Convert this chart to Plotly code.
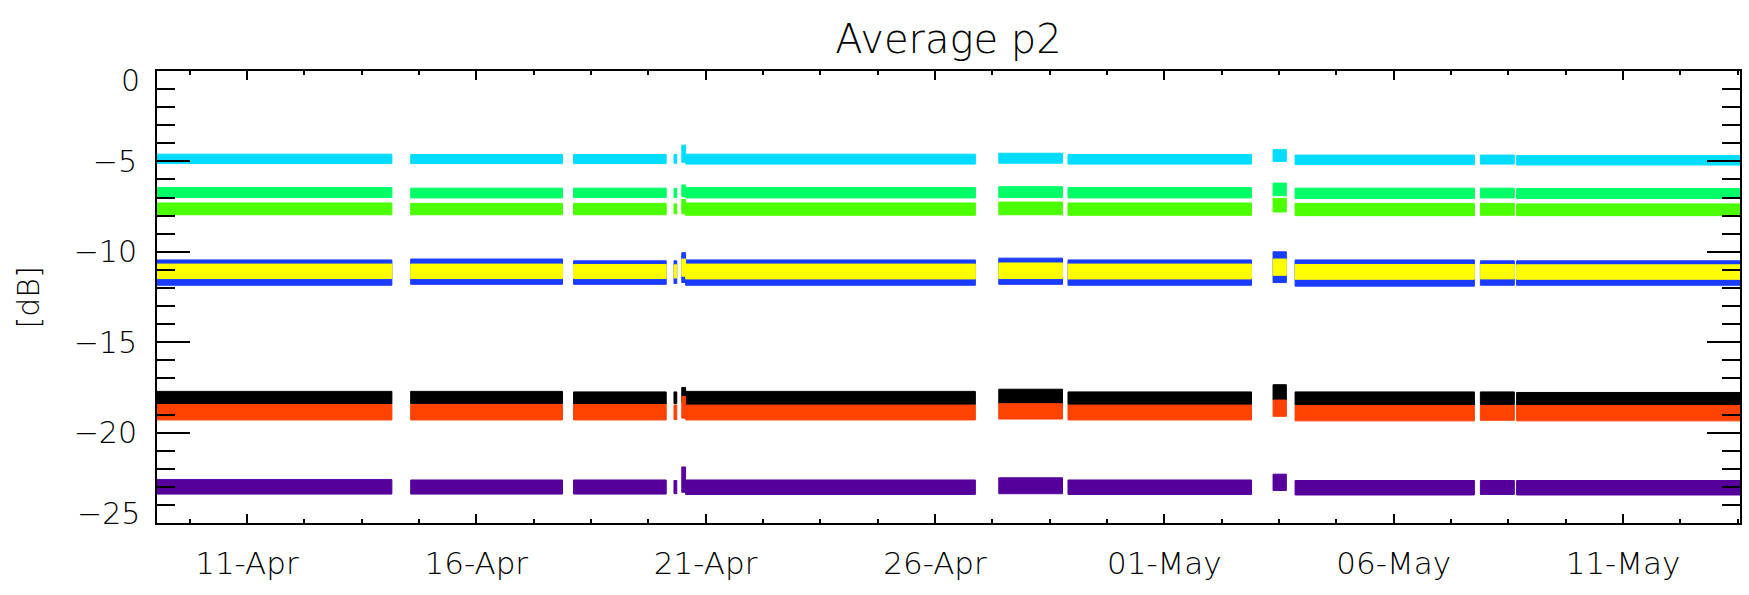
import plotly.graph_objects as go

# ---------------- data ----------------
# contiguous data segments (shared by all channels)
SEG_START = ["2015-04-09 00:40", "2015-04-14 13:40", "2015-04-18 02:53",
             "2015-04-20 07:26", "2015-04-20 11:31", "2015-04-20 13:30",
             "2015-04-27 09:22", "2015-04-28 21:36", "2015-05-03 08:53", "2015-05-03 20:24",
             "2015-05-07 21:22", "2015-05-08 16:19"]
SEG_END = ["2015-04-14 03:50", "2015-04-17 21:07", "2015-04-20 03:22",
           "2015-04-20 08:53", "2015-04-20 13:30", "2015-04-26 21:07",
           "2015-04-28 18:43", "2015-05-02 21:36", "2015-05-03 15:50", "2015-05-07 18:14",
           "2015-05-08 15:07", "2015-05-13 14:00"]

# upper / lower envelope of each channel per segment [dB]
black_top = [-17.72, -17.72, -17.75, -17.75, -17.50, -17.72, -17.60, -17.75, -17.35, -17.75, -17.75, -17.78]
black_bot = [-18.42, -18.40, -18.42, -18.40, -18.30, -18.45, -18.40, -18.45, -18.20, -18.48, -18.45, -18.48]
purple_top = [-22.60, -22.62, -22.62, -22.65, -21.90, -22.62, -22.50, -22.62, -22.30, -22.65, -22.65, -22.65]
purple_bot = [-23.40, -23.40, -23.40, -23.38, -23.30, -23.42, -23.38, -23.42, -23.20, -23.45, -23.42, -23.45]
blue_top = [-10.45, -10.40, -10.50, -10.50, -10.05, -10.45, -10.35, -10.45, -10.00, -10.45, -10.50, -10.50]
blue_bot = [-11.85, -11.80, -11.80, -11.75, -11.70, -11.85, -11.80, -11.85, -11.70, -11.90, -11.85, -11.85]
cyan_top = [-4.60, -4.62, -4.62, -4.62, -4.10, -4.60, -4.55, -4.62, -4.35, -4.65, -4.65, -4.68]
cyan_bot = [-5.12, -5.12, -5.12, -5.10, -5.05, -5.15, -5.10, -5.15, -5.00, -5.18, -5.15, -5.20]
spring_top = [-6.45, -6.48, -6.48, -6.50, -6.30, -6.45, -6.40, -6.45, -6.20, -6.48, -6.48, -6.50]
spring_bot = [-7.00, -7.02, -7.00, -7.00, -6.95, -7.02, -7.00, -7.02, -6.90, -7.05, -7.02, -7.05]
lime_top = [-7.30, -7.32, -7.32, -7.35, -7.10, -7.30, -7.25, -7.30, -7.05, -7.32, -7.32, -7.35]
lime_bot = [-7.95, -7.95, -7.95, -7.90, -7.90, -7.98, -7.95, -7.98, -7.80, -8.00, -7.98, -8.00]
yellow_top = [-10.68, -10.68, -10.70, -10.72, -10.40, -10.68, -10.62, -10.68, -10.40, -10.70, -10.70, -10.72]
yellow_bot = [-11.48, -11.48, -11.48, -11.45, -11.35, -11.50, -11.48, -11.50, -11.30, -11.52, -11.50, -11.52]
orange_top = [-18.45, -18.45, -18.45, -18.48, -18.00, -18.48, -18.40, -18.48, -18.20, -18.50, -18.50, -18.50]
orange_bot = [-19.30, -19.30, -19.30, -19.28, -19.20, -19.30, -19.25, -19.30, -19.10, -19.35, -19.32, -19.35]

SERIES = [
    ("ch1", "#000000", black_top, black_bot),
    ("ch2", "#55009a", purple_top, purple_bot),
    ("ch3", "#1a3cff", blue_top, blue_bot),
    ("ch4", "#00dcff", cyan_top, cyan_bot),
    ("ch5", "#00ff66", spring_top, spring_bot),
    ("ch6", "#4cff00", lime_top, lime_bot),
    ("ch7", "#ffff00", yellow_top, yellow_bot),
    ("ch8", "#ff4200", orange_top, orange_bot),
]

TICK_DATES = ["2015-04-11", "2015-04-16", "2015-04-21", "2015-04-26", "2015-05-01", "2015-05-06", "2015-05-11"]
TICK_LABELS = ["11-Apr", "16-Apr", "21-Apr", "26-Apr", "01-May", "06-May", "11-May"]
Y_TICKS = [0, -5, -10, -15, -20, -25]
Y_LABELS = ["0", "\u22125", "\u221210", "\u221215", "\u221220", "\u221225"]

X_RANGE = ["2015-04-09 00:56", "2015-05-13 13:12"]
Y_RANGE = [-25, 0]

FONT = "DejaVu Sans"

# ---------------- figure ----------------
fig = go.Figure()
for name, color, top, bot in SERIES:
    xs, ys = [], []
    for s, e, t, b in zip(SEG_START, SEG_END, top, bot):
        xs += [s, e, e, s, s, None]
        ys += [t, t, b, b, t, None]
    fig.add_trace(go.Scatter(x=xs, y=ys, mode="lines", fill="toself",
                             fillcolor=color, line=dict(color=color, width=1),
                             name=name, showlegend=False, hoverinfo="skip"))

W, H = 1749, 595
L, R, T, B = 156.7, 7, 71, 71.5
pw = W - L - R

fig.update_layout(
    width=W, height=H,
    margin=dict(l=L, r=R, t=T, b=B, pad=0),
    paper_bgcolor="white", plot_bgcolor="white",
    font=dict(family=FONT, color="black", size=29),
    title=dict(text="Average p2", x=0.5, xref="paper", xanchor="center",
               y=1 - 39 / H, yref="container", yanchor="middle",
               font=dict(family=FONT, size=40, color="black", weight=200)),
    showlegend=False,
    hovermode=False,
)

fig.update_xaxes(
    type="date", range=X_RANGE,
    tickvals=TICK_DATES, ticktext=TICK_LABELS,
    ticks="inside", ticklen=9, tickwidth=1.6, tickcolor="black",
    minor=dict(dtick=1.25 * 86400000, tick0="2015-04-11", ticks="inside",
               ticklen=4, tickwidth=1.6, tickcolor="black"),
    showline=True, linewidth=2, linecolor="black", mirror="ticks",
    showgrid=False, zeroline=False,
    tickfont=dict(family=FONT, size=31, color="black", weight=200),
    ticklabelstandoff=12,
)

fig.update_yaxes(
    range=Y_RANGE,
    tickvals=Y_TICKS, ticktext=["", Y_LABELS[1], Y_LABELS[2], Y_LABELS[3], Y_LABELS[4], ""],
    ticks="inside", ticklen=33, tickwidth=1.6, tickcolor="black",
    minor=dict(dtick=1, tick0=0, ticks="inside", ticklen=18, tickwidth=1.6, tickcolor="black"),
    showline=True, linewidth=2, linecolor="black", mirror="ticks",
    showgrid=False, zeroline=False,
    tickfont=dict(family=FONT, size=30, color="black", weight=200),
    ticklabelstandoff=12,
)

# end labels of the y axis sit slightly inside the frame in the original
fx = (141.7 - L) / pw
fig.add_annotation(text=Y_LABELS[0], xref="paper", yref="y", x=fx, y=-0.55,
                   xanchor="right", yanchor="middle", showarrow=False,
                   font=dict(family=FONT, size=30, color="black", weight=200))
fig.add_annotation(text=Y_LABELS[5], xref="paper", yref="y", x=fx, y=-24.5,
                   xanchor="right", yanchor="middle", showarrow=False,
                   font=dict(family=FONT, size=30, color="black", weight=200))
# y axis title
fig.add_annotation(text="[dB]", xref="paper", yref="paper", x=(28 - L) / pw, y=0.5,
                   xanchor="center", yanchor="middle", textangle=-90, showarrow=False,
                   font=dict(family=FONT, size=30, color="black", weight=200))

fig.write_html("out.html")
